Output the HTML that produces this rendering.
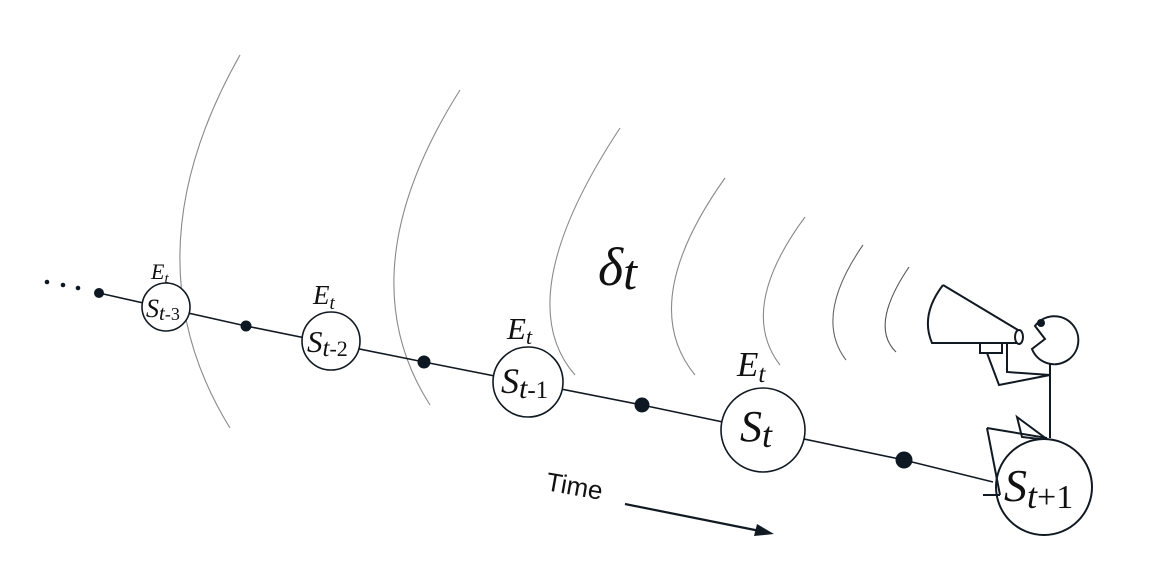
<!DOCTYPE html>
<html><head><meta charset="utf-8"><style>
html,body{margin:0;padding:0;background:#fff;}
svg{display:block;}
.m{font-family:"Liberation Serif",serif;font-style:italic;fill:#111;}
</style></head><body>
<svg width="1162" height="571" viewBox="0 0 1162 571" xmlns="http://www.w3.org/2000/svg">
<g fill="none" stroke="#8a8a8a" stroke-width="1.1">
<path d="M240,55 Q125,258 230,428"/>
<path d="M460,90 Q345,272 430,405"/>
<path d="M620,128 Q508,298 575,375"/>
<path d="M725,178 Q636,303 695,375"/>
<path d="M805,217 Q737,309 780,365"/>
<path d="M863,245 Q813,317 846,360" stroke="#666"/>
<path d="M909,267 Q869,326 896,352" stroke="#555"/>
</g>
<g stroke="#111a22" stroke-width="1.6" fill="none">
<polyline points="99,293 246,326 424,362 642,405 904,460 993,482"/>
</g>
<g fill="#fff" stroke="#111a22" stroke-width="1.6">
<circle cx="166" cy="307" r="24"/>
<circle cx="331" cy="341" r="29"/>
<circle cx="528" cy="382" r="35"/>
<circle cx="763" cy="430" r="42"/>
</g>
<g fill="#0d1822">
<circle cx="47" cy="282" r="2.3"/><circle cx="63" cy="285" r="2.3"/><circle cx="78" cy="288" r="2.3"/>
<circle cx="99" cy="293" r="5"/>
<circle cx="246" cy="326" r="5.5"/>
<circle cx="424" cy="362" r="6.5"/>
<circle cx="642" cy="405" r="7.5"/>
<circle cx="904" cy="460" r="8.5"/>
</g>
<text class="m" x="151" y="279" font-size="22">E<tspan font-size="15" dy="4">t</tspan></text>
<text class="m" x="313" y="304" font-size="27">E<tspan font-size="19" dy="5">t</tspan></text>
<text class="m" x="507" y="339" font-size="31">E<tspan font-size="22" dy="5">t</tspan></text>
<text class="m" x="737" y="376" font-size="35">E<tspan font-size="25" dy="6">t</tspan></text>
<text class="m" x="146" y="317" font-size="26">S<tspan font-size="21" dy="3">t</tspan><tspan font-style="normal" font-size="18">-3</tspan></text>
<text class="m" x="307" y="352" font-size="31">S<tspan font-size="25" dy="4">t</tspan><tspan font-style="normal" font-size="22">-2</tspan></text>
<text class="m" x="501" y="393" font-size="36">S<tspan font-size="30" dy="5">t</tspan><tspan font-style="normal" font-size="25">-1</tspan></text>
<text class="m" x="740" y="441" font-size="44">S<tspan font-size="36" dy="6">t</tspan></text>
<text class="m" x="598" y="285" font-size="54">δ<tspan font-size="50" dy="4">t</tspan></text>
<text x="545" y="490" font-family="Liberation Sans,sans-serif" font-size="26" fill="#111" transform="rotate(10 545 490)">Time</text>
<line x1="625" y1="504" x2="760" y2="531" stroke="#111a22" stroke-width="2.2"/>
<polygon points="774,534 754,536 757,524" fill="#111a22"/>
<g stroke="#111a22" stroke-width="2" fill="none" stroke-linejoin="miter">
<path d="M943,285 Q920,315 932,343 L1018,343 M943,285 L1018,330"/>
<ellipse cx="1019" cy="337" rx="4" ry="7" fill="#fff"/>
<rect x="980" y="343" width="22" height="10" fill="#fff"/>
<path d="M1007,343 L1007,372 L1050,375"/>
<path d="M987,353 L999,385 L1050,375"/>
<path d="M1050,362 L1050,438"/>
<path d="M1017,417 L1048,440 L1022,437 Z"/>
<path d="M987,428 L1047,438"/>
<circle cx="1044" cy="487" r="48" fill="#fff"/>
<path d="M987,428 L1000,495"/>
<path d="M983,495 L1000,495"/>
<path d="M1035,326 A24,24 0 1 1 1032,349 L1045,339 Z" fill="#fff"/>
</g>
<circle cx="1041" cy="323" r="4" fill="#0d1822"/>
<text class="m" x="1004" y="501" font-size="46">S<tspan font-size="36" dy="7">t</tspan><tspan font-style="normal" font-size="34">+1</tspan></text>
</svg>
</body></html>
